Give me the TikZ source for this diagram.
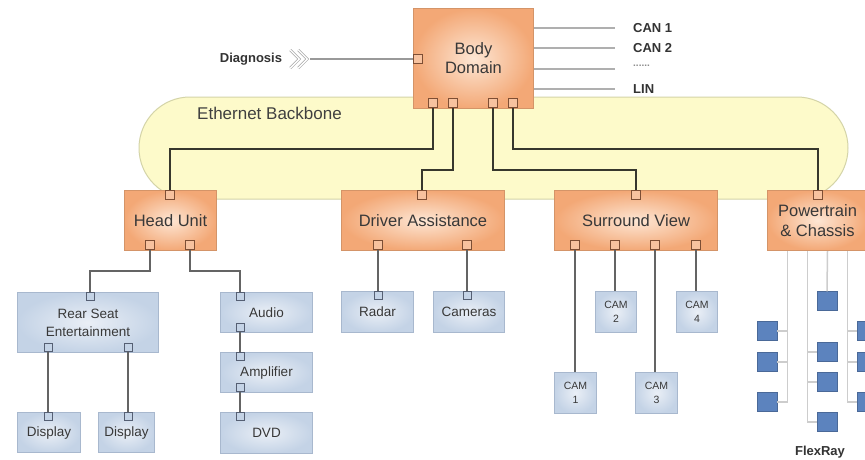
\documentclass[tikz,border=0pt]{standalone}
\usepackage{fontspec}
\setmainfont{Liberation Sans}
\usetikzlibrary{positioning}

\definecolor{ecuFill}{RGB}{243,168,118}
\definecolor{ecuCenter}{RGB}{253,230,212}
\definecolor{ecuBorder}{RGB}{212,148,104}
\definecolor{devFill}{RGB}{196,211,230}
\definecolor{devCenter}{RGB}{234,239,246}
\definecolor{devBorder}{RGB}{168,184,206}
\definecolor{bbFill}{RGB}{253,250,202}
\definecolor{bbBorder}{RGB}{212,212,168}
\definecolor{ethLine}{RGB}{55,55,45}
\definecolor{busLine}{RGB}{100,100,100}
\definecolor{canLine}{RGB}{175,175,175}
\definecolor{flexLine}{RGB}{205,205,205}
\definecolor{flexBox}{RGB}{92,131,190}
\definecolor{portLine}{RGB}{125,78,52}
\definecolor{devPortLine}{RGB}{85,95,115}

\begin{document}
\begin{tikzpicture}[x=1pt, y=-1pt,
    ecuNode/.style={draw=ecuBorder, line width=1pt, inner color=ecuCenter, outer color=ecuFill, anchor=north west, align=center, inner sep=0pt, font=\fontsize{16.5}{19}\selectfont, text=black!78},
    devNode/.style={draw=devBorder, line width=1pt, inner color=devCenter, outer color=devFill, anchor=north west, align=center, inner sep=0pt, font=\fontsize{13.5}{18}\selectfont, text=black!78},
    camNode/.style={devNode, font=\fontsize{10.5}{14}\selectfont},
    portNode/.style={draw=portLine, line width=1pt, fill=ecuFill!70, minimum size=9pt, inner sep=0pt},
    devPort/.style={draw=devPortLine, line width=0.9pt, fill=devFill, minimum size=8pt, inner sep=0pt},
    flexNode/.style={fill=flexBox, draw=flexBox!80!black, line width=0.4pt, minimum width=20pt, minimum height=19pt, inner sep=0pt},
    tagNode/.style={font=\bfseries\fontsize{13}{15}\selectfont, text=black!80, inner sep=2pt},
    ethLink/.style={draw=ethLine, line width=2.2pt},
    busLink/.style={draw=busLine, line width=1.6pt},
    canLink/.style={draw=canLine, line width=1.2pt},
    flexLink/.style={draw=flexLine, line width=1.5pt},
    chevron/.style={draw=gray!70, double=white, double distance=1.4pt, line width=0.6pt}]

  \useasboundingbox (0,0) rectangle (865,459);
  \fill[white] (0,0) rectangle (865,459);
  \clip (0,0) rectangle (865,459);

  % Backbone
  \draw[fill=bbFill, draw=bbBorder, line width=1pt, rounded corners=51pt] (139,97) rectangle (848,199);
  \node[anchor=west, font=\fontsize{17}{19}\selectfont, text=black!75, inner sep=0pt] (bbLabel) at (197,113) {Ethernet Backbone};

  % Control units
  \node[ecuNode, minimum width=120pt, minimum height=100pt] (body) at (413,8) {Body\\Domain};
  \node[ecuNode, minimum width=92pt, minimum height=60pt] (head) at (124,190) {Head Unit};
  \node[ecuNode, minimum width=163pt, minimum height=60pt] (driver) at (341,190) {Driver Assistance};
  \node[ecuNode, minimum width=163pt, minimum height=60pt] (surround) at (554,190) {Surround View};
  \node[ecuNode, minimum width=100pt, minimum height=60pt, font=\fontsize{16.5}{20}\selectfont] (power) at (767,190) {Powertrain\\\& Chassis};

  % Devices
  \node[devNode, minimum width=141pt, minimum height=60pt] (rear) at (17,292) {Rear Seat\\Entertainment};
  \node[devNode, minimum width=63pt, minimum height=40pt] (disp1) at (17,412) {Display};
  \node[devNode, minimum width=56pt, minimum height=40pt] (disp2) at (98,412) {Display};
  \node[devNode, minimum width=92pt, minimum height=40pt] (audio) at (220,292) {Audio};
  \node[devNode, minimum width=92pt, minimum height=40pt] (amp) at (220,352) {Amplifier};
  \node[devNode, minimum width=92pt, minimum height=41pt] (dvd) at (220,412) {DVD};
  \node[devNode, minimum width=72pt, minimum height=41pt] (radar) at (341,291) {Radar};
  \node[devNode, minimum width=71pt, minimum height=41pt] (cameras) at (433,291) {Cameras};
  \node[camNode, minimum width=42pt, minimum height=41pt] (cam1) at (554,372) {CAM\\1};
  \node[camNode, minimum width=41pt, minimum height=41pt] (cam2) at (595,291) {CAM\\2};
  \node[camNode, minimum width=42pt, minimum height=41pt] (cam3) at (635,372) {CAM\\3};
  \node[camNode, minimum width=41pt, minimum height=41pt] (cam4) at (676,291) {CAM\\4};

  % Ports
  \node[portNode, anchor=west] (bodyL) at (413,59) {};
  \foreach \x [count=\i] in {433,453,493,513}
    \node[portNode, anchor=south] (bodyP\i) at (\x,108) {};
  \node[portNode, anchor=north] (headT) at (170,190) {};
  \node[portNode, anchor=south] (headB1) at (150,250) {};
  \node[portNode, anchor=south] (headB2) at (190,250) {};
  \node[portNode, anchor=north] (driverT) at (422,190) {};
  \node[portNode, anchor=south] (driverB1) at (378,250) {};
  \node[portNode, anchor=south] (driverB2) at (467,250) {};
  \node[portNode, anchor=north] (surroundT) at (636,190) {};
  \foreach \x [count=\i] in {575,615,655,696}
    \node[portNode, anchor=south] (surroundB\i) at (\x,250) {};
  \node[portNode, anchor=north] (powerT) at (818,190) {};

  \node[devPort, anchor=north] (rearT) at (90,292) {};
  \node[devPort, anchor=south] (rearB1) at (48,352) {};
  \node[devPort, anchor=south] (rearB2) at (128,352) {};
  \node[devPort, anchor=north] (disp1T) at (48,412) {};
  \node[devPort, anchor=north] (disp2T) at (128,412) {};
  \node[devPort, anchor=north] (audioT) at (240,292) {};
  \node[devPort, anchor=south] (audioB) at (240,332) {};
  \node[devPort, anchor=north] (ampT) at (240,352) {};
  \node[devPort, anchor=south] (ampB) at (240,392) {};
  \node[devPort, anchor=north] (dvdT) at (240,412) {};
  \node[devPort, anchor=north] (radarT) at (378,291) {};
  \node[devPort, anchor=north] (camerasT) at (467,291) {};

  % Ethernet links
  \draw[ethLink] (bodyP1.south) -- ++(0,41) -| (headT.north);
  \draw[ethLink] (bodyP2.south) -- ++(0,62) -| (driverT.north);
  \draw[ethLink] (bodyP3.south) -- ++(0,62) -| (surroundT.north);
  \draw[ethLink] (bodyP4.south) -- ++(0,41) -| (powerT.north);

  % Device links
  \draw[busLink] (headB1.south) -- ++(0,21) -| (rearT.north);
  \draw[busLink] (headB2.south) -- ++(0,21) -| (audioT.north);
  \draw[busLink] (rearB1.south) -- (disp1T.north);
  \draw[busLink] (rearB2.south) -- (disp2T.north);
  \draw[busLink] (audioB.south) -- (ampT.north);
  \draw[busLink] (ampB.south) -- (dvdT.north);
  \draw[busLink] (driverB1.south) -- (radarT.north);
  \draw[busLink] (driverB2.south) -- (camerasT.north);
  \foreach \i in {1,2,3,4}
    \draw[busLink] (surroundB\i.south) -- (cam\i.north -| surroundB\i.south);

  % Diagnosis
  \node[tagNode] (diag) at (251,59) {Diagnosis};
  \draw[chevron] ([xshift=6pt, yshift=9pt]diag.east) -- ++(9,9) -- ++(-9,9);
  \draw[chevron] ([xshift=14pt, yshift=9pt]diag.east) -- ++(9,9) -- ++(-9,9);
  \coordinate (diagEnd) at ([xshift=26pt]diag.east);
  \draw[busLink, line width=1.3pt, draw=gray!80] (diagEnd) -- (bodyL.west);

  % Buses
  \node[tagNode, anchor=west] (can1) at (631,28) {CAN 1};
  \node[tagNode, anchor=west] (can2) at (631,48) {CAN 2};
  \node[anchor=west, font=\bfseries\fontsize{10}{10}\selectfont, text=gray!90, inner sep=2pt] (canX) at (631,66) {......};
  \node[tagNode, anchor=west] (lin) at (631,89) {LIN};
  \foreach \n in {can1,can2,lin}
    \draw[canLink] (body.east |- \n.west) -- ([xshift=-16pt]\n.west);
  \draw[canLink] (body.east |- 0,69) -- ([xshift=-16pt, yshift=-3pt]canX.west);

  % FlexRay
  \foreach \k [count=\i] in {-30,-10,10,30}
    \coordinate (fr\i) at ([xshift=\k pt]power.south);
  \foreach \y [count=\i] in {331,362,402}
    \node[flexNode] (fa\i) at (767,\y) {};
  \foreach \y [count=\i] in {352,382,422}
    \node[flexNode] (fb\i) at (827,\y) {};
  \node[flexNode] (fc1) at (827,301) {};
  \foreach \y [count=\i] in {331,362,402}
    \node[flexNode] (fd\i) at (867,\y) {};
  \foreach \i in {1,2,3} {
    \draw[flexLink] (fr1) |- (fa\i.east);
    \draw[flexLink] (fr2) |- (fb\i.west);
    \draw[flexLink] (fr4) |- (fd\i.west);
  }
  \draw[flexLink] (fr3) -- (fc1.north);
  \node[tagNode] (flex) at (820,452) {FlexRay};

\end{tikzpicture}
\end{document}
